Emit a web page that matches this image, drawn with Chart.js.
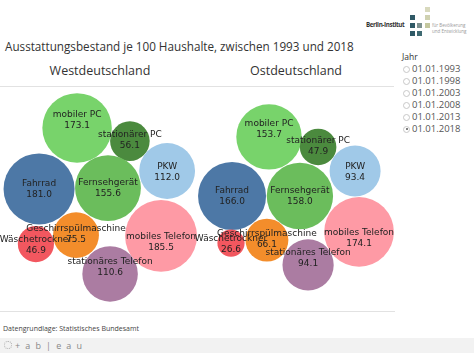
<!DOCTYPE html>
<html lang="de">
<head>
<meta charset="utf-8">
<script src="https://cdn.jsdelivr.net/npm/chart.js@4.4.1/dist/chart.umd.min.js"></script>
<style>
  html, body { margin:0; padding:0; background:#fff; }
  body { width:474px; height:355px; position:relative; overflow:hidden; font-family:"Open Sans", sans-serif; color:#333; }
  .abs { position:absolute; white-space:nowrap; }
  #title { left:5px; top:38px; font-size:11.7px; color:#333; }
  .panel { top:62px; font-size:12.5px; color:#333; text-align:center; width:160px; }
  #hr1 { left:0; top:86px; width:394px; height:1px; background:#e2e2e2; }
  #hr2 { left:0; top:311px; width:395px; height:1px; background:#e2e2e2; }
  #chartWrap { left:0; top:87px; width:396px; height:224px; }
  #src { left:3px; top:324px; font-size:7px; color:#444; }
  #tabbar { left:0; top:338px; width:474px; height:15px; background:#f2f2f2; }
  #tablogo { left:15px; top:339px; font-size:9px; color:#888; letter-spacing:1.4px; }
  #tabicon { left:4px; top:341px; width:8px; height:8px; border:1px dotted #aaa; border-radius:50%; box-sizing:border-box; }
  #jahr { left:402px; top:51px; font-size:8.5px; color:#333; }
  .radio { left:403px; font-size:9.5px; color:#555; }
  .radio span.c { display:inline-block; width:7px; height:7px; border:1px solid #c8c8c8; border-radius:50%; box-sizing:border-box; margin-right:2px; vertical-align:-0.5px; position:relative; }
  .radio span.c.on::after { content:""; position:absolute; left:1.5px; top:1.5px; width:2px; height:2px; border-radius:50%; background:#555; }
  #logoText { left:366px; top:20px; font-size:6.2px; font-weight:bold; color:#333; font-family:"Open Sans", sans-serif; letter-spacing:-0.35px; }
  .sq { position:absolute; width:5px; height:5px; }
  .sub { font-size:4.5px; color:#999; left:432px; }
</style>
</head>
<body>
<div class="abs" id="logoText">Berlin-Institut</div>
<div class="sq" style="left:410px;top:15px;background:#2f5966"></div>
<div class="sq" style="left:410px;top:23px;background:#2f5966"></div>
<div class="sq" style="left:417px;top:23px;background:#7d9190"></div>
<div class="sq" style="left:410px;top:31px;background:#2f5966"></div>
<div class="sq" style="left:417px;top:31px;background:#3f6a72"></div>
<div class="sq" style="left:425px;top:7px;background:#d8d9bd"></div>
<div class="sq" style="left:425px;top:15px;background:#cfd1b0"></div>
<div class="sq" style="left:425px;top:23px;background:#c4c79f"></div>
<div class="abs sub" style="top:22px">für Bevölkerung</div>
<div class="abs sub" style="top:28px">und Entwicklung</div>

<div class="abs" id="title">Ausstattungsbestand je 100 Haushalte, zwischen 1993 und 2018</div>
<div class="abs panel" style="left:20px">Westdeutschland</div>
<div class="abs panel" style="left:216px">Ostdeutschland</div>
<div class="abs" id="hr1"></div>
<div class="abs" id="chartWrap"><canvas id="c" width="396" height="224"></canvas></div>
<div class="abs" id="hr2"></div>

<div class="abs" id="jahr">Jahr</div>
<div id="radios"></div>

<div class="abs" id="src">Datengrundlage: Statistisches Bundesamt</div>
<div class="abs" id="tabbar"></div>
<div class="abs" id="tabicon"></div>
<div class="abs" id="tablogo">+ a b | e a u</div>

<script>
// ---- data ----
const categories = ['mobiler PC','stationärer PC','PKW','Fahrrad','Fernsehgerät','Wäschetrockner','Geschirrspülmaschine','mobiles Telefon','stationäres Telefon'];
const westValues = [173.1, 56.1, 112.0, 181.0, 155.6, 46.9, 75.5, 185.5, 110.6];
const eastValues = [153.7, 47.9, 93.4, 166.0, 158.0, 26.6, 66.1, 174.1, 94.1];
const years = ['01.01.1993','01.01.1998','01.01.2003','01.01.2008','01.01.2013','01.01.2018'];
const selectedYear = '01.01.2018';

// ---- packed layout (units of sqrt(value)) ----
const westX = [29.2, 49.2, 63.3, 14.8, 40.9, 13.6, 28.8, 61.0, 41.7];
const westY = [15.5, 20.5, 31.8, 38.6, 38.3, 59.5, 56.1, 56.4, 70.8];
const eastX = [101.9, 120.5, 134.5, 87.9, 113.6, 87.5, 101.1, 136.0, 116.7];
const eastY = [18.9, 22.7, 31.8, 41.3, 41.3, 59.1, 58.0, 54.9, 67.4];
const labelShift = [-13, -6, -4, -5, -5, -4, -6, 1, -12];
const colors = ['#78d36b','#4b8a3e','#a0c9e8','#4d78a6','#6bbd5c','#f2575f','#f38d2b','#fe9aa5','#ab7ca2'];

// legend radios
const rc = document.getElementById('radios');
years.forEach((y, i) => {
  const d = document.createElement('div');
  d.className = 'abs radio';
  d.style.top = (62 + i * 12) + 'px';
  d.innerHTML = '<span class="c' + (y === selectedYear ? ' on' : '') + '"></span>' + y;
  rc.appendChild(d);
});

function pts(xs, ys, vs) { return vs.map((v, i) => ({ x: xs[i], y: ys[i], v: v, label: categories[i] })); }

const labelPlugin = {
  id: 'bubbleLabels',
  afterDatasetsDraw(chart) {
    const c = chart.ctx;
    c.save();
    c.font = '9px "DejaVu Sans", sans-serif';
    c.fillStyle = '#222';
    c.textAlign = 'center';
    c.textBaseline = 'middle';
    chart.data.datasets.forEach((ds, di) => {
      chart.getDatasetMeta(di).data.forEach((el, i) => {
        const p = ds.data[i];
        const dy = labelShift[i];
        c.fillText(p.label, el.x, el.y + dy);
        c.fillText(p.v.toFixed(1), el.x, el.y + dy + 11);
      });
    });
    c.restore();
  }
};

const chart = new Chart(document.getElementById('c'), {
  type: 'bubble',
  data: {
    datasets: [
      { label: 'Westdeutschland', data: pts(westX, westY, westValues), backgroundColor: colors, borderWidth: 0 },
      { label: 'Ostdeutschland', data: pts(eastX, eastY, eastValues), backgroundColor: colors, borderWidth: 0 }
    ]
  },
  options: {
    responsive: false,
    animation: false,
    events: [],
    clip: false,
    layout: { padding: 0, autoPadding: false },
    scales: {
      x: { type: 'linear', min: 0, max: 150, display: false },
      y: { type: 'linear', min: 0, max: 84.85, reverse: true, display: false }
    },
    plugins: { legend: { display: false }, tooltip: { enabled: false } }
  },
  plugins: [labelPlugin]
});

// bubble radius = sqrt(value) in x-scale units, converted to pixels by the scale
const sx = chart.scales.x;
const unitPx = Math.abs(sx.getPixelForValue(1) - sx.getPixelForValue(0));
chart.data.datasets.forEach(ds => {
  ds.data = ds.data.map(p => Object.assign({}, p, { r: Math.sqrt(p.v) * unitPx }));
});
chart.update('none');
</script>
</body>
</html>
